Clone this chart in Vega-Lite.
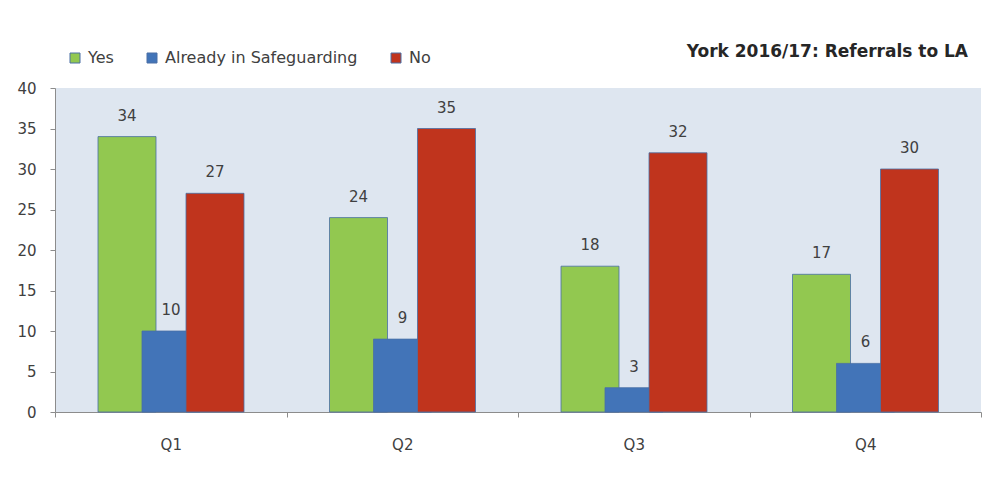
{
  "$schema": "https://vega.github.io/schema/vega-lite/v6.json",
  "autosize": {"type": "none"},
  "width": 926,
  "height": 324,
  "padding": {"left": 55, "top": 88, "right": 7, "bottom": 69},
  "background": "white",
  "title": {
    "text": "York 2016/17:  Referrals to LA",
    "anchor": "end",
    "frame": "group",
    "orient": "top",
    "offset": -11,
    "dx": -13,
    "font": "DejaVu Sans",
    "fontSize": 17,
    "fontWeight": "bold",
    "color": "#262626"
  },
  "data": {
    "values": [
      {"quarter": "Q1", "series": "Yes", "value": 34},
      {"quarter": "Q1", "series": "Already in Safeguarding", "value": 10},
      {"quarter": "Q1", "series": "No", "value": 27},
      {"quarter": "Q2", "series": "Yes", "value": 24},
      {"quarter": "Q2", "series": "Already in Safeguarding", "value": 9},
      {"quarter": "Q2", "series": "No", "value": 35},
      {"quarter": "Q3", "series": "Yes", "value": 18},
      {"quarter": "Q3", "series": "Already in Safeguarding", "value": 3},
      {"quarter": "Q3", "series": "No", "value": 32},
      {"quarter": "Q4", "series": "Yes", "value": 17},
      {"quarter": "Q4", "series": "Already in Safeguarding", "value": 6},
      {"quarter": "Q4", "series": "No", "value": 30}
    ]
  },
  "encoding": {
    "x": {
      "field": "quarter",
      "type": "nominal",
      "sort": ["Q1", "Q2", "Q3", "Q4"],
      "scale": {"paddingInner": 0, "paddingOuter": 0},
      "axis": {
        "title": null,
        "labelAngle": 0,
        "tickBand": "extent",
        "tickSize": 5,
        "tickColor": "#8c8c8c",
        "domainColor": "#8c8c8c",
        "labelPadding": 20,
        "labelFont": "DejaVu Sans",
        "labelFontSize": 15,
        "labelColor": "#404040"
      }
    },
    "xOffset": {
      "field": "series",
      "type": "nominal",
      "sort": ["Yes", "Already in Safeguarding", "No"],
      "scale": {"paddingInner": 0, "paddingOuter": 0, "range": [50, 182]}
    },
    "y": {
      "field": "value",
      "type": "quantitative",
      "scale": {"domain": [0, 40], "nice": false},
      "axis": {
        "title": null,
        "values": [0, 5, 10, 15, 20, 25, 30, 35, 40],
        "grid": false,
        "tickSize": 5,
        "tickColor": "#8c8c8c",
        "domainColor": "#8c8c8c",
        "labelPadding": 14,
        "labelFont": "DejaVu Sans",
        "labelFontSize": 15,
        "labelColor": "#404040"
      }
    }
  },
  "layer": [
    {
      "mark": {"type": "bar", "width": 58, "stroke": "#4a6fa5", "strokeWidth": 1, "strokeOpacity": 0.8},
      "encoding": {
        "color": {
          "field": "series",
          "type": "nominal",
          "sort": ["Yes", "Already in Safeguarding", "No"],
          "scale": {"domain": ["Yes", "Already in Safeguarding", "No"], "range": ["#92C850", "#4274B8", "#C0341D"]},
          "legend": {
            "title": null,
            "orient": "none",
            "direction": "horizontal",
            "legendX": 12,
            "legendY": -38,
            "symbolType": "square",
            "symbolSize": 100,
            "symbolStrokeColor": "#4a6fa5",
            "symbolStrokeWidth": 1,
            "labelOffset": 5,
            "labelLimit": 0,
            "columnPadding": 30,
            "labelFont": "DejaVu Sans",
            "labelFontSize": 16,
            "labelColor": "#404040"
          }
        }
      }
    },
    {
      "mark": {"type": "text", "dy": -21, "baseline": "middle", "font": "DejaVu Sans", "fontSize": 15, "color": "#404040"},
      "encoding": {
        "text": {"field": "value", "type": "quantitative"}
      }
    }
  ],
  "config": {
    "view": {"fill": "#DEE6F0", "stroke": null}
  }
}
